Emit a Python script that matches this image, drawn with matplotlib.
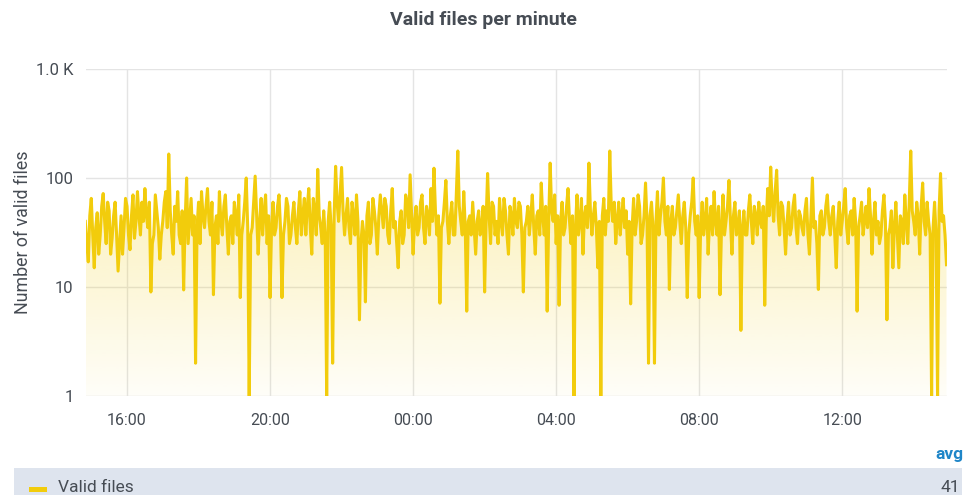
import numpy as np
import matplotlib
matplotlib.use("Agg")
import matplotlib.pyplot as plt
import matplotlib.dates as mdates
from matplotlib.patches import Rectangle
import datetime as dt

plt.rcParams['font.family'] = ['Roboto', 'DejaVu Sans']

title = "Valid files per minute"
series_name = "Valid files"
y_label = "Number of valid files"
avg_label = "avg"
avg_value = "41"
start_time = dt.datetime(2023, 1, 1, 14, 50)
step_seconds = 150
y_ticks = [1, 10, 100, 1000]
y_tick_labels = ["1", "10", "100", "1.0 K"]
x_tick_hours = [16, 20, 0, 4, 8, 12]

values = [
    40, 25, 17, 45, 65, 30, 15, 35, 48, 20, 30, 55, 72, 40, 25, 60, 50, 20, 28, 45,
    60, 30, 14, 25, 45, 20, 35, 65, 55, 30, 22, 45, 70, 28, 40, 75, 45, 30, 60, 40,
    80, 45, 35, 60, 9, 25, 30, 70, 50, 35, 18, 30, 40, 60, 75, 35, 166, 50, 30, 20,
    55, 40, 75, 30, 25, 50, 9.4, 40, 100, 25, 40, 65, 30, 45, 2, 35, 60, 25, 75, 45,
    35, 55, 80, 40, 30, 60, 8.5, 35, 45, 25, 75, 40, 30, 55, 70, 35, 20, 40, 45, 25,
    60, 45, 30, 70, 8, 30, 40, 60, 100, 35, 1, 30, 35, 60, 104, 45, 20, 40, 65, 30,
    50, 70, 25, 45, 8, 35, 60, 30, 35, 55, 70, 35, 8, 30, 40, 65, 55, 25, 30, 45,
    60, 35, 25, 50, 75, 30, 45, 65, 30, 55, 80, 35, 20, 65, 50, 30, 120, 45, 35, 25,
    50, 30, 1, 40, 60, 35, 2, 45, 128, 60, 40, 70, 125, 50, 30, 45, 65, 35, 25, 60,
    45, 30, 70, 40, 5, 25, 40, 30, 7.3, 45, 60, 25, 30, 65, 50, 35, 20, 45, 70, 50,
    35, 65, 55, 30, 25, 50, 80, 35, 40, 25, 15, 40, 50, 25, 30, 70, 60, 35, 107, 45,
    20, 40, 55, 30, 35, 60, 70, 35, 25, 55, 45, 30, 80, 40, 123, 50, 30, 45, 7.1, 35,
    40, 60, 95, 40, 25, 45, 60, 30, 30, 70, 177, 55, 40, 30, 75, 35, 6, 40, 45, 30,
    60, 35, 20, 40, 50, 30, 35, 55, 9, 40, 110, 45, 25, 60, 55, 30, 40, 25, 65, 40,
    30, 65, 50, 30, 20, 55, 45, 30, 65, 40, 35, 60, 55, 30, 9, 35, 40, 55, 30, 45,
    70, 35, 20, 45, 50, 30, 90, 45, 30, 55, 6, 40, 137, 50, 40, 70, 25, 45, 6.8, 40,
    60, 30, 35, 55, 80, 40, 25, 45, 1, 35, 70, 30, 40, 65, 20, 45, 55, 35, 137, 50,
    30, 45, 60, 35, 15, 40, 1, 45, 65, 30, 50, 40, 177, 55, 40, 60, 25, 40, 60, 30,
    45, 65, 35, 50, 20, 40, 7, 35, 65, 30, 40, 70, 55, 25, 30, 45, 90, 40, 2, 45,
    60, 35, 2, 40, 75, 30, 45, 60, 100, 40, 30, 55, 9.5, 40, 55, 30, 35, 50, 70, 40,
    25, 45, 60, 35, 8, 30, 45, 60, 100, 40, 30, 45, 8, 35, 60, 30, 40, 65, 20, 40,
    55, 30, 75, 40, 30, 55, 8.5, 35, 70, 30, 40, 55, 95, 40, 20, 45, 60, 30, 35, 50,
    4, 35, 50, 30, 30, 50, 70, 40, 25, 55, 45, 30, 60, 40, 35, 55, 6.8, 40, 80, 45,
    126, 60, 40, 75, 118, 45, 30, 60, 55, 35, 20, 40, 60, 30, 35, 55, 70, 35, 25, 50,
    45, 35, 30, 50, 65, 30, 20, 45, 100, 35, 40, 25, 9.5, 45, 50, 30, 35, 55, 70, 40,
    30, 45, 55, 30, 15, 40, 60, 30, 40, 55, 80, 35, 25, 45, 50, 30, 65, 40, 6, 35,
    45, 60, 30, 40, 55, 35, 80, 45, 20, 40, 60, 30, 40, 25, 30, 50, 70, 40, 5, 30,
    35, 50, 15, 35, 60, 30, 15, 45, 40, 25, 70, 40, 25, 60, 177, 50, 40, 30, 60, 45,
    20, 55, 90, 40, 30, 60, 40, 30, 1, 35, 60, 30, 1, 50, 110, 40, 45, 30, 16,
]

times = [start_time + dt.timedelta(seconds=step_seconds * i) for i in range(len(values))]
tnum = mdates.date2num(times)
vals = np.array(values, dtype=float)

W, H = 966, 495
fig = plt.figure(figsize=(W / 100, H / 100), dpi=100)
fig.patch.set_facecolor("white")

L, R, T, B = 86, 947, 69, 396
ax = fig.add_axes([L / W, 1 - B / H, (R - L) / W, (B - T) / H])
ax.set_facecolor("white")

line_color = "#F2CC0C"
text_color = "#464c54"

ax.set_yscale("log")
ax.set_ylim(1, 1000)
x0 = mdates.date2num(start_time + dt.timedelta(minutes=1, seconds=10))
x1 = mdates.date2num(start_time + dt.timedelta(hours=24, minutes=5, seconds=50))
ax.set_xlim(x0, x1)

# gradient fill under the line
poly = ax.fill_between(tnum, 1, vals, color="none", linewidth=0)
grad = np.linspace(0, 1, 256).reshape(-1, 1)
rgba = np.zeros((256, 1, 4))
rgba[..., 0] = 242 / 255
rgba[..., 1] = 204 / 255
rgba[..., 2] = 12 / 255
rgba[..., 3] = 0.03 + 0.38 * grad
im = ax.imshow(rgba, extent=[0, 1, 0, 1], transform=ax.transAxes, origin="lower",
               aspect="auto", zorder=1, interpolation="bilinear")
path = poly.get_paths()[0]
im.set_clip_path(path, transform=ax.transData)

ax.plot(tnum, vals, color=line_color, linewidth=2.2, zorder=3, solid_joinstyle="round")

# grid
ax.set_yticks(y_ticks)
ax.set_yticklabels(y_tick_labels)
ax.yaxis.set_minor_locator(matplotlib.ticker.NullLocator())
xt = []
for h in x_tick_hours:
    d = start_time.replace(hour=h, minute=0)
    if h < 14:
        d = d + dt.timedelta(days=1)
    xt.append(mdates.date2num(d))
ax.set_xticks(xt)
ax.set_xticklabels([f"{h:02d}:00" for h in x_tick_hours])
ax.grid(True, color="#e4e4e4", linewidth=1, zorder=0)
ax.set_axisbelow(True)
for s in ax.spines.values():
    s.set_visible(False)
ax.tick_params(axis="y", length=0, labelsize=12, colors=text_color, pad=9)
ax.tick_params(axis="x", length=0, labelsize=11.5, colors=text_color, pad=12)

ax.set_ylabel(y_label, fontsize=12.8, color=text_color, labelpad=3)

fig.text(0.5, 1 - 20 / H, title, ha="center", va="center", fontsize=14,
         fontweight="bold", color=text_color)

# legend
fig.text(963 / W, 1 - 455 / H, avg_label, ha="right", va="center", fontsize=12.5,
         fontweight="bold", color="#1f86c8")
fig.patches.append(Rectangle((14 / W, 0), (962 - 14) / W, (495 - 468) / H,
                             transform=fig.transFigure, facecolor="#dee4ee",
                             edgecolor="none", zorder=0))
fig.patches.append(Rectangle((29 / W, 1 - 492 / H), 18 / W, 5 / H,
                             transform=fig.transFigure, facecolor=line_color,
                             edgecolor="none", zorder=1))
fig.text(58 / W, 1 - 487 / H, series_name, ha="left", va="center", fontsize=12.5,
         color=text_color)
fig.text(960 / W, 1 - 487 / H, avg_value, ha="right", va="center", fontsize=12.5,
         color=text_color)

fig.savefig("out.png", dpi=100, facecolor="white")
